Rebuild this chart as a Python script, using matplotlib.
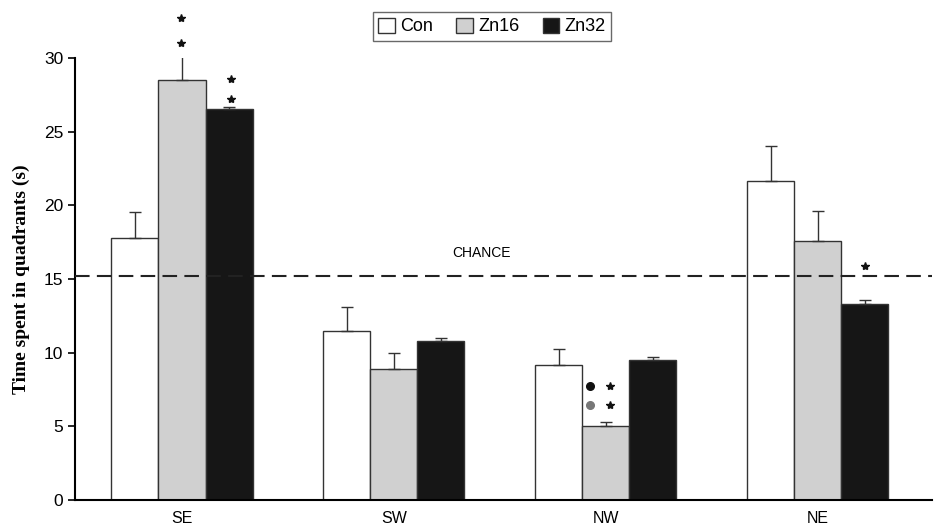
import matplotlib
matplotlib.use("Agg")
import matplotlib.pyplot as plt
import numpy as np

quadrants = ["SE", "SW", "NW", "NE"]
groups = ["Con", "Zn16", "Zn32"]
con_mean = [17.8, 11.5, 9.15, 21.65]
con_err = [1.75, 1.6, 1.1, 2.4]
zn16_mean = [28.5, 8.9, 5.0, 17.6]
zn16_err = [1.7, 1.05, 0.32, 2.0]
zn32_mean = [26.55, 10.8, 9.5, 13.3]
zn32_err = [0.15, 0.2, 0.18, 0.28]
chance = 15.2

# significance marks: (x in data units, y) and dots with colour
star_marks = [(-0.005, 32.7), (-0.005, 31.0), (0.23, 28.6), (0.23, 27.2),
              (2.02, 7.74), (2.02, 6.45), (3.225, 15.85)]
dot_marks = [(1.925, 7.74, "#111111"), (1.925, 6.45, "#777777")]

colors = ["white", "#d0d0d0", "#161616"]
plt.rcParams["font.family"] = ["Liberation Sans", "DejaVu Sans"]

fig = plt.figure(figsize=(9.34, 5.27), dpi=100)
ax = fig.add_axes([0.0803, 0.0512, 0.9177, 0.8387])

x = np.arange(len(quadrants))
w = 0.222
means = [con_mean, zn16_mean, zn32_mean]
errs = [con_err, zn16_err, zn32_err]
bars = []
for i in range(3):
    pos = x + (i - 1) * w
    b = ax.bar(pos, means[i], w, color=colors[i], edgecolor="#333333",
               linewidth=1.0, label=groups[i], zorder=2)
    bars.append(b)
    ax.errorbar(pos, means[i], yerr=[np.zeros(4), errs[i]], fmt="none",
                ecolor="#333333", elinewidth=1.0, capsize=4, capthick=1.0,
                zorder=3)

ax.axhline(chance, color="#222222", linestyle=(0, (7, 3.5)), linewidth=1.5,
           zorder=4)
ax.text(1.415, 16.8, "CHANCE", ha="center", va="center", fontsize=10)

for sx, sy in star_marks:
    ax.plot(sx, sy, marker="*", color="#111111", markersize=6, clip_on=False,
            zorder=5, linestyle="none")
for dx, dy, dc in dot_marks:
    ax.plot(dx, dy, marker="o", color=dc, markersize=5.5, clip_on=False,
            zorder=5, linestyle="none")

ax.set_xlim(-0.505, 3.54)
ax.set_ylim(0, 30)
ax.set_yticks(range(0, 31, 5))
ax.set_xticks(x)
ax.set_xticklabels(quadrants, fontsize=11.5)
ax.tick_params(axis="x", length=0, pad=8)
ax.tick_params(axis="y", labelsize=12.5, length=5, width=1.2, direction="out")
for s in ["top", "right"]:
    ax.spines[s].set_visible(False)
ax.spines["left"].set_linewidth(1.5)
ax.spines["bottom"].set_linewidth(1.5)
ax.set_ylabel("Time spent in quadrants (s)", fontsize=14, fontweight="bold",
              family=["Liberation Serif", "DejaVu Serif"], labelpad=10)

leg = fig.legend(handles=bars, labels=groups, loc="center",
                 bbox_to_anchor=(492 / 934, 1 - 26.5 / 527), ncol=3,
                 fontsize=13, frameon=True, fancybox=False, edgecolor="#444444",
                 handlelength=0.9, handleheight=0.9, handletextpad=0.3,
                 columnspacing=1.3, borderpad=0.3)
leg.get_frame().set_linewidth(1.0)

fig.savefig("out.png", dpi=100)
